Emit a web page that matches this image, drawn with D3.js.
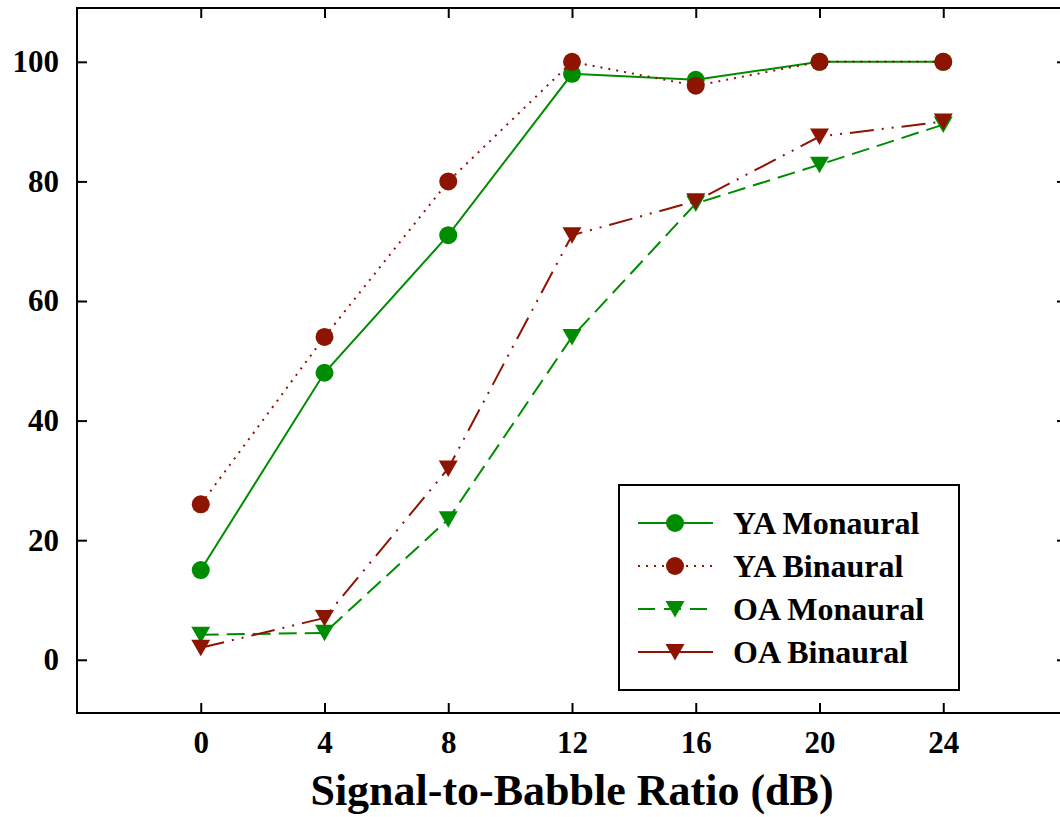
<!DOCTYPE html>
<html>
<head>
<meta charset="utf-8">
<script src="https://cdn.jsdelivr.net/npm/d3@7"></script>
<style>
  body { margin: 0; background: #fff; }
  svg { display: block; }
  text { font-family: "Liberation Serif", "Times New Roman", serif; font-weight: bold; fill: #000; }
</style>
</head>
<body>
<svg id="chart"></svg>
<script>
// x values (dB)
const snr = [0, 4, 8, 12, 16, 20, 24];
// percent correct per group
const yaMonaural = [15, 48, 71, 98, 97, 100, 100];
const yaBinaural = [26, 54, 80, 100, 96, 100, 100];
const oaMonaural = [4.2, 4.5, 23.5, 54, 76.3, 82.8, 89.5];
const oaBinaural = [2, 7, 32, 71, 76.7, 87.5, 90];

const xTicks = [0, 4, 8, 12, 16, 20, 24];
const yTicks = [0, 20, 40, 60, 80, 100];

const green = '#008c00';
const red = '#8c1400';

const series = [
  { name: 'YA Monaural', values: yaMonaural, color: green, dash: null, legendDash: null, marker: 'circle' },
  { name: 'YA Binaural', values: yaBinaural, color: red, dash: '2,6', legendDash: '2,6', marker: 'circle' },
  { name: 'OA Monaural', values: oaMonaural, color: green, dash: '18,8', legendDash: '17,9', marker: 'triangle' },
  { name: 'OA Binaural', values: oaBinaural, color: red, dash: '24,8,2,8,2,8', legendDash: null, marker: 'triangle' },
];

const config = {
  width: 1060,
  height: 817,
  left: 77,
  right: 1067,
  top: 8,
  bottom: 713,
  tickLen: 10,
};

const svg = d3.select('#chart')
  .attr('width', config.width)
  .attr('height', config.height);

const xScale = d3.scaleLinear().domain([-4, 28]).range([config.left, config.right]);
const yScale = d3.scaleLinear().domain([-8.9, 109]).range([config.bottom, config.top]);

// frame
svg.append('rect')
  .attr('x', config.left)
  .attr('y', config.top)
  .attr('width', config.right - config.left)
  .attr('height', config.bottom - config.top)
  .attr('fill', 'none')
  .attr('stroke', '#000')
  .attr('stroke-width', 2);

// axes with inward ticks on all sides
const axisBottom = d3.axisBottom(xScale).tickValues(xTicks).tickSize(-config.tickLen).tickPadding(18);
const axisTop = d3.axisTop(xScale).tickValues(xTicks).tickSize(-config.tickLen).tickFormat('');
const axisLeft = d3.axisLeft(yScale).tickValues(yTicks).tickSize(-config.tickLen).tickPadding(18);
const axisRight = d3.axisRight(yScale).tickValues(yTicks).tickSize(-config.tickLen).tickFormat('');

function styleAxis(g) {
  g.select('.domain').remove();
  g.selectAll('.tick line').attr('stroke', '#000').attr('stroke-width', 2);
  g.selectAll('.tick text')
    .attr('font-size', 31)
    .attr('font-family', '"Liberation Serif", serif')
    .attr('font-weight', 'bold')
    .attr('fill', '#000');
}

svg.append('g').attr('transform', `translate(0,${config.bottom})`).call(axisBottom).call(styleAxis);
svg.append('g').attr('transform', `translate(0,${config.top})`).call(axisTop).call(styleAxis);
svg.append('g').attr('transform', `translate(${config.left},0)`).call(axisLeft).call(styleAxis);
svg.append('g').attr('transform', `translate(${config.right},0)`).call(axisRight).call(styleAxis);

// axis title
svg.append('text')
  .attr('x', 572)
  .attr('y', 805)
  .attr('text-anchor', 'middle')
  .attr('font-size', 44)
  .text('Signal-to-Babble Ratio (dB)');

const line = d3.line()
  .x((d) => xScale(d.x))
  .y((d) => yScale(d.y));

const triPath = 'M-9.5,-8L9.5,-8L0,8.5Z';

function drawMarker(g, marker, color) {
  if (marker === 'circle') {
    g.append('circle').attr('r', 9).attr('fill', color);
  } else {
    g.append('path').attr('d', triPath).attr('fill', color);
  }
}

series.forEach((s) => {
  const pts = snr.map((x, i) => ({ x, y: s.values[i] }));
  svg.append('path')
    .datum(pts)
    .attr('d', line)
    .attr('fill', 'none')
    .attr('stroke', s.color)
    .attr('stroke-width', 2)
    .attr('stroke-dasharray', s.dash);

  pts.forEach((p) => {
    const g = svg.append('g').attr('transform', `translate(${xScale(p.x)},${yScale(p.y)})`);
    drawMarker(g, s.marker, s.color);
  });
});

// legend
const legend = svg.append('g');
legend.append('rect')
  .attr('x', 619)
  .attr('y', 485)
  .attr('width', 340)
  .attr('height', 205)
  .attr('fill', '#fff')
  .attr('stroke', '#000')
  .attr('stroke-width', 2);

series.forEach((s, i) => {
  const y = 523 + i * 43;
  legend.append('line')
    .attr('x1', 638).attr('x2', 713)
    .attr('y1', y).attr('y2', y)
    .attr('stroke', s.color)
    .attr('stroke-width', 2)
    .attr('stroke-dasharray', s.legendDash);
  const g = legend.append('g').attr('transform', `translate(675,${y})`);
  drawMarker(g, s.marker, s.color);
  legend.append('text')
    .attr('x', 733)
    .attr('y', y)
    .attr('dy', '0.35em')
    .attr('font-size', 32)
    .text(s.name);
});
</script>
</body>
</html>
